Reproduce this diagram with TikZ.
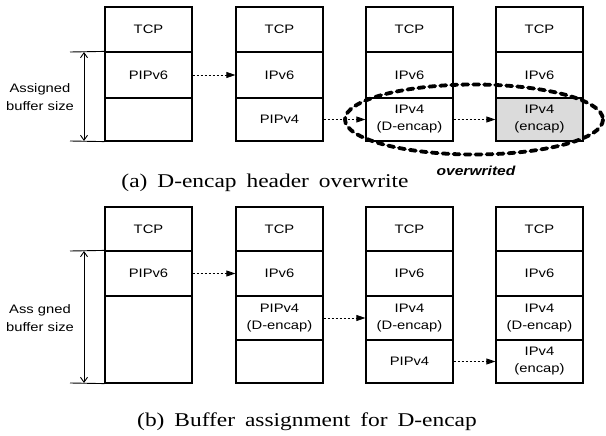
\documentclass[tikz,border=0pt]{standalone}
\usepackage{fontspec}
\newfontfamily\boxfont[FakeStretch=1.2]{Liberation Sans}
\newfontfamily\capfont[FakeStretch=1.2,WordSpace=1.7]{Liberation Serif}
\usetikzlibrary{arrows.meta}
\begin{document}
\begin{tikzpicture}[x=1pt,y=-1pt,
  cell/.style={draw, line width=1.2pt, minimum width=87pt, minimum height=#1pt,
    inner sep=0pt, align=center, font=\boxfont\fontsize{12.3}{17}\selectfont},
  shaded/.style={fill=black!14},
  conn/.style={line width=0.8pt, dash pattern=on 2.5pt off 1.5pt,
    -{Triangle[length=9pt,width=6pt]}},
  extline/.style={line width=0.9pt},
  dimarr/.style={line width=0.9pt,
    {Straight Barb[length=5pt,width=7pt]}-{Straight Barb[length=5pt,width=7pt]}},
  sidelabel/.style={align=center, font=\boxfont\fontsize{12.3}{18}\selectfont},
  caption/.style={font=\capfont\fontsize{19.5}{22}\selectfont},
  owlabel/.style={font=\boxfont\bfseries\itshape\fontsize{13}{15}\selectfont},
  overwr/.style={line width=3.8pt, dash pattern=on 6pt off 5pt, line cap=round}]
\useasboundingbox (0,0) rectangle (606,436);
\fill[white] (0,0) rectangle (606,436);

% ---------- panel (a) ----------
\node[cell=45] (a1t) at (148.5,29.5) {TCP};
\node[cell=46] (a1v) at (148.5,75) {PIPv6};
\node[cell=43] (a1e) at (148.5,119.5) {};

\node[cell=45] (a2t) at (279.5,29.5) {TCP};
\node[cell=46] (a2v) at (279.5,75) {IPv6};
\node[cell=43] (a2f) at (279.5,119.5) {PIPv4};

\node[cell=45] (a3t) at (409.5,29.5) {TCP};
\node[cell=46] (a3v) at (409.5,75) {IPv6};
\node[cell=43] (a3f) at (409.5,119.5) {IPv4\\(D-encap)};

\node[cell=45] (a4t) at (539.5,29.5) {TCP};
\node[cell=46] (a4v) at (539.5,75) {IPv6};
\node[cell=43,shaded] (a4f) at (539.5,119.5) {IPv4\\(encap)};

\draw[conn] (a1v.east) -- (a2v.west);
\draw[conn] (a2f.east) -- (a3f.west);
\draw[conn] (a3f.east) -- (a4f.west);

\coordinate (adT) at (70,52);
\coordinate (adB) at (70,141);
\coordinate (adT2) at (84,52);
\coordinate (adB2) at (84,141);
\draw[extline] (adT) -- (a1v.north west);
\draw[extline] (adB) -- (a1e.south west);
\draw[dimarr] (adT2) -- (adB2);
\node[sidelabel] (alab) at (40,97) {Assigned\\buffer size};

\draw[overwr] (474,119.5) ellipse [x radius=129, y radius=35];
\node[owlabel] (ow) at (476,171) {overwrited};
\node[caption] (capa) at (265,183) {(a) D-encap header overwrite};

% ---------- panel (b) ----------
\node[cell=44] (b1t) at (148.5,229) {TCP};
\node[cell=45] (b1v) at (148.5,273.5) {PIPv6};
\node[cell=87] (b1e) at (148.5,339.5) {};

\node[cell=44] (b2t) at (279.5,229) {TCP};
\node[cell=45] (b2v) at (279.5,273.5) {IPv6};
\node[cell=44] (b2f) at (279.5,318) {PIPv4\\(D-encap)};
\node[cell=43] (b2e) at (279.5,361.5) {};

\node[cell=44] (b3t) at (409.5,229) {TCP};
\node[cell=45] (b3v) at (409.5,273.5) {IPv6};
\node[cell=44] (b3f) at (409.5,318) {IPv4\\(D-encap)};
\node[cell=43] (b3g) at (409.5,361.5) {PIPv4};

\node[cell=44] (b4t) at (539.5,229) {TCP};
\node[cell=45] (b4v) at (539.5,273.5) {IPv6};
\node[cell=44] (b4f) at (539.5,318) {IPv4\\(D-encap)};
\node[cell=43] (b4g) at (539.5,361.5) {IPv4\\(encap)};

\draw[conn] (b1v.east) -- (b2v.west);
\draw[conn] (b2f.east) -- (b3f.west);
\draw[conn] (b3g.east) -- (b4g.west);

\coordinate (bdT) at (70,251);
\coordinate (bdB) at (70,383);
\coordinate (bdT2) at (84,251);
\coordinate (bdB2) at (84,383);
\draw[extline] (bdT) -- (b1v.north west);
\draw[extline] (bdB) -- (b1e.south west);
\draw[dimarr] (bdT2) -- (bdB2);
\node[sidelabel] (blab) at (40,318) {Ass gned\\buffer size};

\node[caption] (capb) at (307,422) {(b) Buffer assignment for D-encap};
\end{tikzpicture}
\end{document}
